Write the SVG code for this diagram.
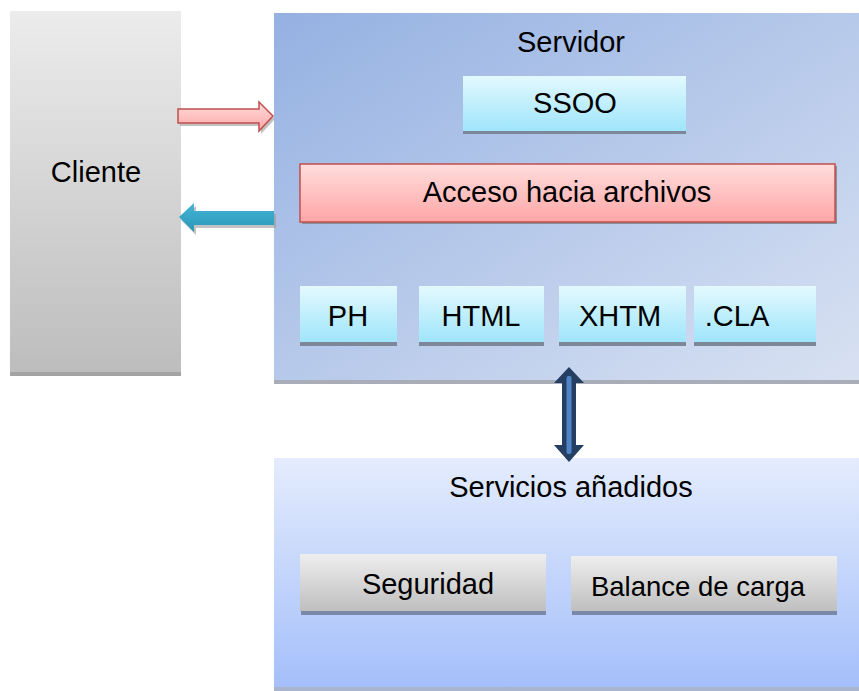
<svg xmlns="http://www.w3.org/2000/svg" width="859" height="691" viewBox="0 0 859 691">
<defs>
<linearGradient id="gCli" x1="0" y1="0" x2="0" y2="1"><stop offset="0" stop-color="#ececec"/><stop offset="1" stop-color="#bdbdbd"/></linearGradient>
<linearGradient id="gSrv" x1="0" y1="0" x2="1" y2="1"><stop offset="0" stop-color="#95b1e2"/><stop offset="1" stop-color="#d8e1f2"/></linearGradient>
<linearGradient id="gSvc" x1="0" y1="0" x2="0" y2="1"><stop offset="0" stop-color="#e4ecfd"/><stop offset="1" stop-color="#a3befa"/></linearGradient>
<linearGradient id="gCyan" x1="0" y1="0" x2="0" y2="1"><stop offset="0" stop-color="#e3f9fe"/><stop offset="1" stop-color="#9fe5fb"/></linearGradient>
<linearGradient id="gRed" x1="0" y1="0" x2="0" y2="1"><stop offset="0" stop-color="#ffdddd"/><stop offset="1" stop-color="#ffa6a6"/></linearGradient>
<linearGradient id="gGrey" x1="0" y1="0" x2="0" y2="1"><stop offset="0" stop-color="#eeeeee"/><stop offset="1" stop-color="#bfbfbf"/></linearGradient>
<linearGradient id="gTeal" x1="0" y1="0" x2="0" y2="1"><stop offset="0" stop-color="#45b6d6"/><stop offset="1" stop-color="#2a96b6"/></linearGradient>
</defs>
<style>
text{font-family:"Liberation Sans",Arial,sans-serif;fill:#000;text-anchor:middle}
.t{font-size:29px}
.cyan{fill:url(#gCyan)}
.grey{fill:url(#gGrey)}
.sh{fill:#7d8799}
</style>
<g id="cliente">
<rect x="10" y="372" width="171" height="4" fill="#a3a3a3"/>
<rect x="10" y="11" width="171" height="361" fill="url(#gCli)"/>
<text class="t" x="96" y="182">Cliente</text>
</g>
<g id="servidor">
<rect x="274" y="380" width="585" height="4" fill="#a9adb8"/>
<rect x="274" y="13" width="585" height="367" fill="url(#gSrv)"/>
<text class="t" x="571" y="52">Servidor</text>
</g>
<g id="ssoo">
<rect class="sh" x="463" y="130" width="223" height="4"/>
<rect class="cyan" x="463" y="76" width="223" height="55"/>
<text class="t" x="575" y="113">SSOO</text>
</g>
<g id="acceso">
<rect x="302" y="166" width="535" height="58" fill="#8a8f9c"/>
<rect x="300" y="164" width="535" height="58" fill="url(#gRed)" stroke="#c0504d" stroke-width="1.5"/>
<text class="t" x="567" y="202">Acceso hacia archivos</text>
</g>
<g id="ph">
<rect class="sh" x="300" y="342" width="97" height="4"/>
<rect class="cyan" x="300" y="286" width="97" height="56"/>
<text class="t" x="348" y="326">PH</text>
</g>
<g id="html">
<rect class="sh" x="419" y="342" width="125" height="4"/>
<rect class="cyan" x="419" y="286" width="125" height="56"/>
<text class="t" x="481" y="326">HTML</text>
</g>
<g id="xhtm">
<rect class="sh" x="559" y="342" width="127" height="4"/>
<rect class="cyan" x="559" y="286" width="127" height="56"/>
<text class="t" x="620" y="326">XHTM</text>
</g>
<g id="cla">
<rect class="sh" x="694" y="342" width="122" height="4"/>
<rect class="cyan" x="694" y="286" width="122" height="56"/>
<text class="t" x="737" y="326">.CLA</text>
</g>
<g id="servicios">
<rect x="274" y="458" width="585" height="233" fill="url(#gSvc)"/>
<rect x="274" y="687" width="585" height="4" fill="#a9b5cf"/>
<text class="t" x="571" y="497">Servicios añadidos</text>
</g>
<g id="seguridad">
<rect x="301" y="611" width="245" height="4" fill="#7a89aa"/>
<rect class="grey" x="300" y="554" width="246" height="57"/>
<text class="t" x="428" y="594">Seguridad</text>
</g>
<g id="balance">
<rect x="572" y="611" width="265" height="4" fill="#7a89aa"/>
<rect class="grey" x="571" y="556" width="266" height="55"/>
<text x="698" y="596" style="font-size:27.5px">Balance de carga</text>
</g>
<g id="connectors">
<path d="M180,112 L261,112 L261,105 L275,119 L261,134 L261,126 L180,126 Z" fill="#9a9a9a" opacity="0.6"/>
<path d="M178,109 L259,109 L259,102 L273,116 L259,131 L259,123 L178,123 Z" fill="url(#gRed)" stroke="#c0504d" stroke-width="1.5" stroke-linejoin="miter"/>
<path d="M276,214 L196,214 L196,206 L181,220 L196,235 L196,228 L276,228 Z" fill="#9a9a9a" opacity="0.6"/>
<path d="M274,211 L194,211 L194,203 L179,217 L194,232 L194,225 L274,225 Z" fill="url(#gTeal)"/>
<path d="M569,367 L584,383 L576,383 L576,445 L584,445 L569,462 L554,445 L562,445 L562,383 L554,383 Z" fill="#243f62"/>
<rect x="566.5" y="376" width="5" height="78" rx="2" fill="#4f85c8"/>
</g>
</svg>
